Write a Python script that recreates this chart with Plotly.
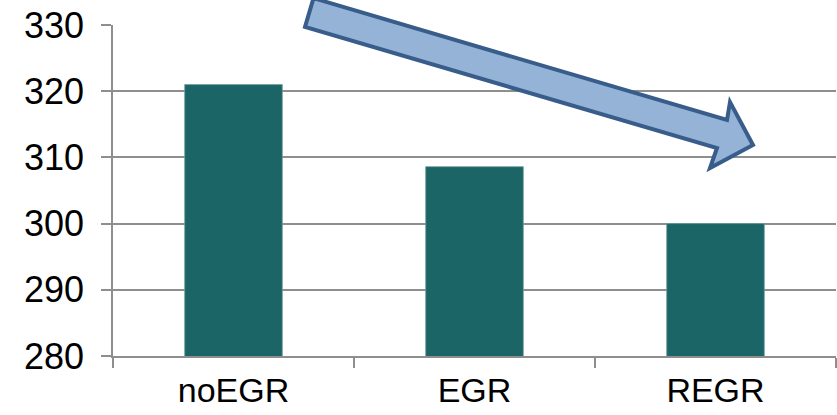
import plotly.graph_objects as go

categories = ["noEGR", "EGR", "REGR"]
values = [321.0, 308.6, 300.0]
y_ticks = [280, 290, 300, 310, 320, 330]

W, H = 837, 415
L, R, T, B = 113, 1, 25, 59

fig = go.Figure(go.Bar(
    x=categories, y=values, width=0.405,
    marker=dict(color="#1B6566", line=dict(color="#6E9E9E", width=0.8)),
))

grey = "#8E8E8E"
fig.update_layout(
    width=W, height=H,
    margin=dict(l=L, r=R, t=T, b=B, pad=0, autoexpand=False),
    paper_bgcolor="white", plot_bgcolor="white",
    showlegend=False,
    font=dict(family="Liberation Sans, Arial, sans-serif", size=36, color="#000000"),
)
fig.update_yaxes(
    range=[280, 330], tickvals=y_ticks, ticktext=[str(v) for v in y_ticks],
    showgrid=True, gridcolor=grey, gridwidth=1.5,
    showline=True, linecolor=grey, linewidth=1.5,
    ticks="outside", ticklen=10, tickcolor=grey, tickwidth=1.5,
    ticklabelstandoff=10, zeroline=False, fixedrange=True, automargin=False,
)
fig.update_xaxes(
    showline=True, linecolor=grey, linewidth=1.5,
    ticks="outside", ticklen=10, tickcolor=grey, tickwidth=1.5,
    tickson="boundaries", showgrid=False, ticklabelstandoff=3, automargin=False,
    tickfont=dict(size=34),
)

# block arrow decoration, defined in pixel space and converted to paper coords
pw, ph = W - L - R, H - T - B
def px(x, y):
    return (x - L) / pw, (H - B - y) / ph

arrow_px = [(313.5, -1.8), (727, 120), (730, 102), (753, 145),
            (710, 168), (717, 148), (305, 27)]
pts = [px(x, y) for x, y in arrow_px]
path = "M " + " L ".join(f"{a:.5f},{b:.5f}" for a, b in pts) + " Z"
fig.add_shape(type="path", path=path, xref="paper", yref="paper",
              fillcolor="#95B3D7", line=dict(color="#385D8A", width=4),
              layer="above")

fig.write_html("out.html")
